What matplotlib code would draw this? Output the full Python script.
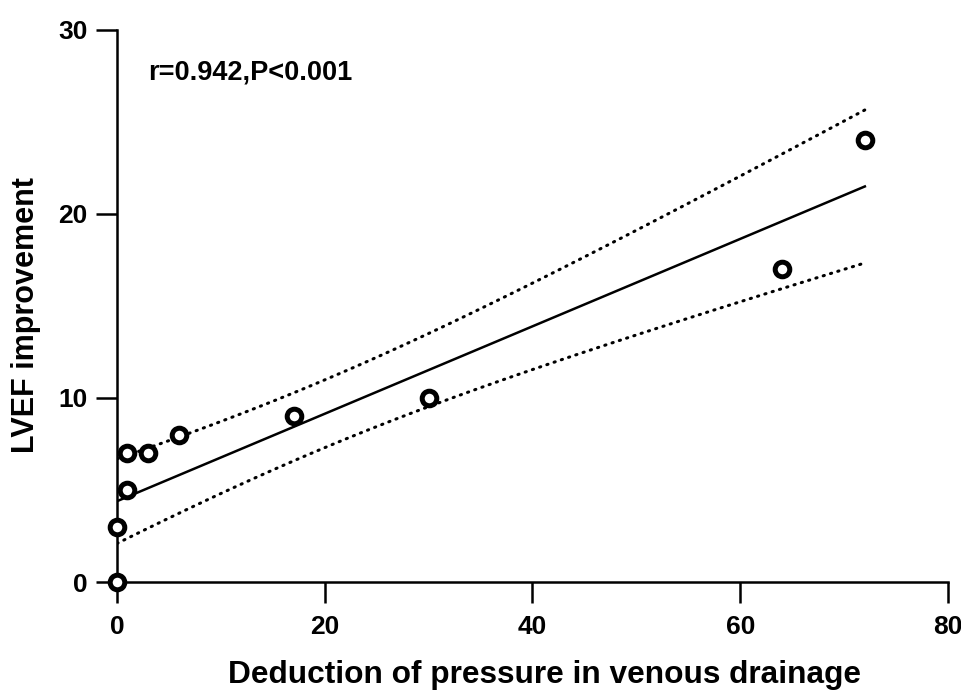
import matplotlib
matplotlib.use("Agg")
import matplotlib.pyplot as plt
import numpy as np

plt.rcParams['font.family'] = ['Liberation Sans', 'DejaVu Sans']
plt.rcParams['font.weight'] = 'bold'

# data
pressure_drop = np.array([0, 0, 1, 1, 3, 6, 17, 30, 64, 72])
lvef_gain = np.array([0, 3, 5, 7, 7, 8, 9, 10, 17, 24])
x_ticks = [0, 20, 40, 60, 80]
y_ticks = [0, 10, 20, 30]
note = "r=0.942,P<0.001"

# linear fit + 95% confidence band of the mean
slope, icpt = np.polyfit(pressure_drop, lvef_gain, 1)
n = len(pressure_drop)
resid = lvef_gain - (slope * pressure_drop + icpt)
s = np.sqrt(np.sum(resid ** 2) / (n - 2))
t_crit = 2.306  # t(0.975, df=8)
xx = np.linspace(pressure_drop.min(), pressure_drop.max(), 100)
yy = slope * xx + icpt
sxx = np.sum((pressure_drop - pressure_drop.mean()) ** 2)
half = t_crit * s * np.sqrt(1 / n + (xx - pressure_drop.mean()) ** 2 / sxx)

fig = plt.figure(figsize=(9.62, 6.91), dpi=100)
ax = fig.add_axes([0.1216, 0.1577, 0.8638, 0.799])

ax.plot(xx, yy, color='black', lw=1.8)
ax.plot(xx, yy + half, color='black', lw=2.2, ls=(0, (0.4, 2.1)),
        dash_capstyle='round')
ax.plot(xx, yy - half, color='black', lw=2.2, ls=(0, (0.4, 2.1)),
        dash_capstyle='round')
ax.plot(pressure_drop, lvef_gain, 'o', mfc='white', mec='black',
        ms=10.5, mew=3.6, clip_on=False, zorder=5)

ax.set_xlim(0, 80)
ax.set_ylim(0, 30)
ax.set_xticks(x_ticks)
ax.set_yticks(y_ticks)
for sp in ['top', 'right']:
    ax.spines[sp].set_visible(False)
for sp in ['left', 'bottom']:
    ax.spines[sp].set_linewidth(1.8)
ax.tick_params(direction='out', length=15, width=1.8, labelsize=19)
ax.tick_params(axis='x', pad=9)
ax.tick_params(axis='y', pad=6)

ax.set_xlabel("Deduction of pressure in venous drainage", fontsize=22.8,
              fontweight='bold')
ax.set_ylabel("LVEF improvement", fontsize=22, fontweight='bold')
ax.xaxis.set_label_coords(0.515, -0.142)
ax.yaxis.set_label_coords(-0.092, 0.484)
ax.text(3.0, 27.7, note, fontsize=19.5, fontweight='bold', va='center')

fig.savefig("out.png", dpi=100)
